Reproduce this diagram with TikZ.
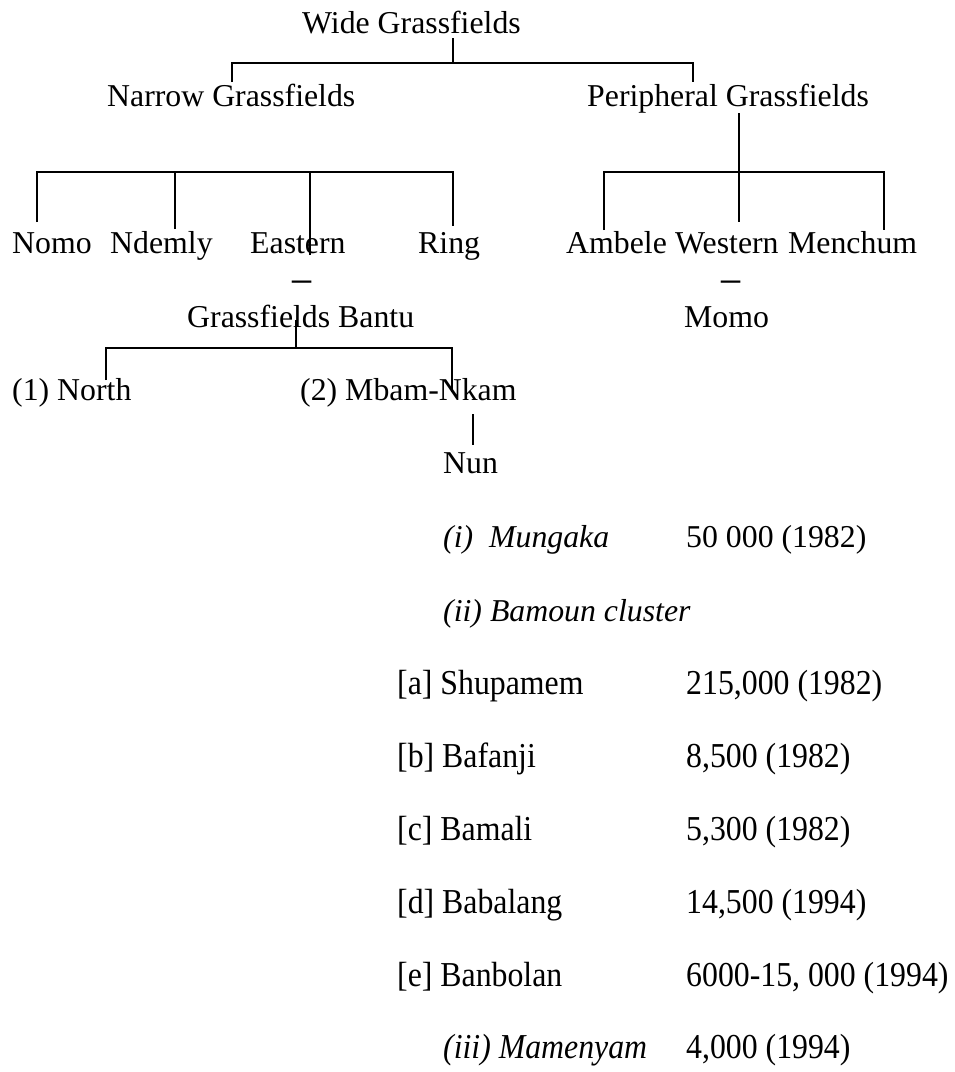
\documentclass[tikz,border=0pt]{standalone}
\usepackage{fontspec}
\setmainfont{Liberation Serif}
\newcommand{\tallrow}[1]{\scalebox{1}[1.1]{#1}}
\begin{document}
\begin{tikzpicture}[x=1pt,y=-1pt,
  lbl/.style={anchor=base west, inner sep=0pt, font=\fontsize{31.8}{38}\selectfont},
  ilbl/.style={lbl, font=\fontsize{31.8}{38}\selectfont\itshape},
  dashmark/.style={anchor=base, inner sep=0pt, font=\fontsize{31.8}{38}\selectfont},
  link/.style={line width=1.5pt, line cap=butt}]
\useasboundingbox (0,0) rectangle (955,1072);

% ---- tree labels ----
\node[lbl] (wide)    at (302,33)  {Wide Grassfields};
\node[lbl] (narrow)  at (107,106) {Narrow Grassfields};
\node[lbl] (periph)  at (587,106) {Peripheral Grassfields};
\node[lbl] (nomo)    at (12,253)  {Nomo};
\node[lbl] (ndemly)  at (110,253) {Ndemly};
\node[lbl] (eastern) at (250,253) {Eastern};
\node[lbl] (ring)    at (418,253) {Ring};
\node[lbl] (ambele)  at (566,253) {Ambele};
\node[lbl] (western) at (675,253) {Western};
\node[lbl] (menchum) at (788,253) {Menchum};
\node[dashmark] (edash) at (302,292) {\scalebox{1.2}[1.4]{–}};
\node[dashmark] (wdash) at (731,292) {\scalebox{1.2}[1.4]{–}};
\node[lbl] (gbantu)  at (187,327) {Grassfields Bantu};
\node[lbl] (momo)    at (684,327) {Momo};
\node[lbl] (north)   at (12,400)  {(1) North};
\node[lbl] (mbam)    at (300,400) {(2) Mbam-Nkam};
\node[lbl] (nun)     at (443,473) {Nun};

% ---- language list ----
\node[ilbl] (mungaka)  at (443,547)  {(i)\enspace Mungaka};
\node[lbl]  (mungakaN) at (686,547)  {50 000 (1982)};
\node[ilbl] (bamoun)   at (443,621)  {(ii) Bamoun cluster};
\node[lbl]  (shupamem) at (397,694)  {\tallrow{[a] Shupamem}};
\node[lbl]  (shupamemN) at (686,694) {\tallrow{215,000 (1982)}};
\node[lbl]  (bafanji)  at (397,767)  {\tallrow{[b] Bafanji}};
\node[lbl]  (bafanjiN) at (686,767)  {\tallrow{8,500 (1982)}};
\node[lbl]  (bamali)   at (397,840)  {\tallrow{[c] Bamali}};
\node[lbl]  (bamaliN)  at (686,840)  {\tallrow{5,300 (1982)}};
\node[lbl]  (babalang) at (397,913)  {\tallrow{[d] Babalang}};
\node[lbl]  (babalangN) at (686,913) {\tallrow{14,500 (1994)}};
\node[lbl]  (banbolan) at (397,986)  {\tallrow{[e] Banbolan}};
\node[lbl]  (banbolanN) at (686,986) {\tallrow{6000-15, 000 (1994)}};
\node[ilbl] (mamenyam) at (443,1058) {\tallrow{(iii) Mamenyam}};
\node[lbl]  (mamenyamN) at (686,1058) {\tallrow{4,000 (1994)}};

% ---- junction points ----
\coordinate (w-stem) at (453,38);
\coordinate (w-mid)  at (453,63);
\coordinate (w-l)    at (232,63);
\coordinate (w-r)    at (693,63);
\coordinate (narrow-in) at (232,82);
\coordinate (periph-in) at (693,82);

\coordinate (p-stem) at (739,113);
\coordinate (p-l)    at (604,172);
\coordinate (p-r)    at (884,172);
\coordinate (ambele-in)  at (604,230);
\coordinate (western-in) at (739,222);
\coordinate (menchum-in) at (884,230);

\coordinate (n-l) at (37,172);
\coordinate (n-r) at (453,172);
\coordinate (nomo-in)    at (37,222);
\coordinate (ndemly-in)  at (175,229);
\coordinate (eastern-in) at (310,255);
\coordinate (ring-in)    at (453,226);

\coordinate (g-stem) at (296,320);
\coordinate (g-mid)  at (296,348);
\coordinate (g-l)    at (106,348);
\coordinate (g-r)    at (452,348);
\coordinate (north-in) at (106,380);
\coordinate (mbam-in)  at (452,392);

\coordinate (m-stem) at (473,414);
\coordinate (nun-in) at (473,445);

% ---- connectors ----
\draw[link] (w-stem) -- (w-mid);
\draw[link] (narrow-in) -- (w-l) -- (w-r) -- (periph-in);

\draw[link] (p-stem) -- (western-in);
\draw[link] (ambele-in) -- (p-l) -- (p-r) -- (menchum-in);

\draw[link] (nomo-in) -- (n-l) -- (n-r) -- (ring-in);
\draw[link] (ndemly-in) -- (ndemly-in |- n-l);
\draw[link] (eastern-in) -- (eastern-in |- n-l);

\draw[link] (g-stem) -- (g-mid);
\draw[link] (north-in) -- (g-l) -- (g-r) -- (mbam-in);

\draw[link] (m-stem) -- (nun-in);
\end{tikzpicture}
\end{document}
